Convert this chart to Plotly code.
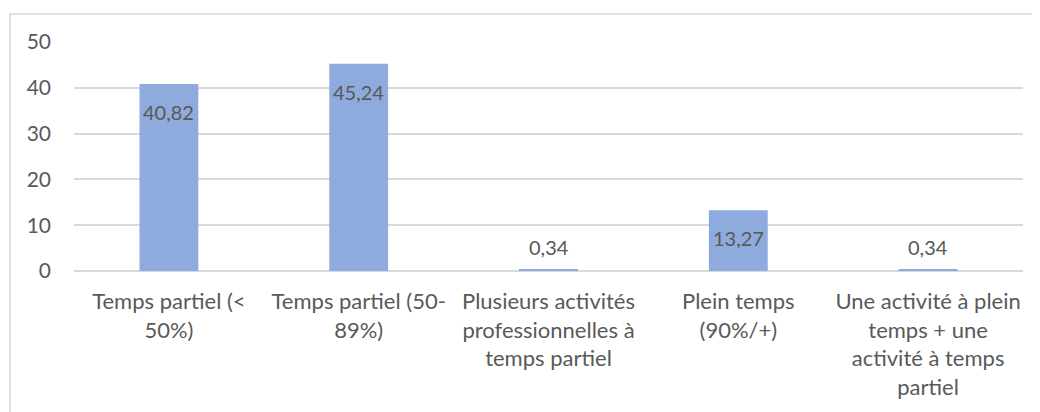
import plotly.graph_objects as go

categories = [
    "Temps partiel (<<br>50%)",
    "Temps partiel (50-<br>89%)",
    "Plusieurs activités<br>professionnelles à<br>temps partiel",
    "Plein temps<br>(90%/+)",
    "Une activité à plein<br>temps + une<br>activité à temps<br>partiel",
]
values = [40.82, 45.24, 0.34, 13.27, 0.34]
labels = ["40,82", "45,24", "0,34", "13,27", "0,34"]
inside = [True, True, False, True, False]

FONT = "Lato"
TXT = "#595959"
GRID = "#D9D9D9"

fig = go.Figure(
    go.Bar(
        x=categories,
        y=values,
        marker=dict(color="#8FAADC", line=dict(width=0)),
        hoverinfo="skip",
    )
)

annotations = []
for c, v, t, ins in zip(categories, values, labels, inside):
    annotations.append(
        dict(
            x=c, y=v, xref="x", yref="y", text=t, showarrow=False,
            yanchor="middle", yshift=-28 if ins else 22,
            font=dict(family=FONT, size=20, color=TXT),
        )
    )

# page has an 8px body margin; figure placed accordingly
OFF = 8
W, H = 1040 - OFF, 412 - OFF
L, R, T, B = 74 - OFF, 17, 42 - OFF, 141
pw, ph = W - L - R, H - T - B

def px_x(p):
    return (p - OFF - L) / pw

def px_y(p):
    return 1 - (p - OFF - T) / ph

fig.update_layout(
    width=W, height=H,
    margin=dict(l=L, r=R, t=T, b=B),
    paper_bgcolor="white", plot_bgcolor="white",
    bargap=0.69,
    showlegend=False,
    font=dict(family=FONT, size=20, color=TXT),
    annotations=annotations,
    shapes=[
        dict(type="rect", xref="paper", yref="paper",
             x0=px_x(10), x1=px_x(1060), y0=px_y(14), y1=px_y(430),
             line=dict(color=GRID, width=1.5), fillcolor="rgba(0,0,0,0)",
             layer="below"),
    ],
    xaxis=dict(
        showgrid=False, showline=False, zeroline=False, ticks="",
        tickfont=dict(family=FONT, size=22, color=TXT),
        ticklabelstandoff=15,
        fixedrange=True,
    ),
    yaxis=dict(
        range=[0, 50], dtick=10, tick0=0,
        showgrid=True, gridcolor=GRID, gridwidth=1.5,
        zeroline=True, zerolinecolor=GRID, zerolinewidth=1.5,
        showline=False, ticks="",
        tickfont=dict(family=FONT, size=21, color=TXT),
        ticklabelstandoff=22,
        fixedrange=True,
    ),
)

fig.write_html("out.html", config={"displayModeBar": False})
